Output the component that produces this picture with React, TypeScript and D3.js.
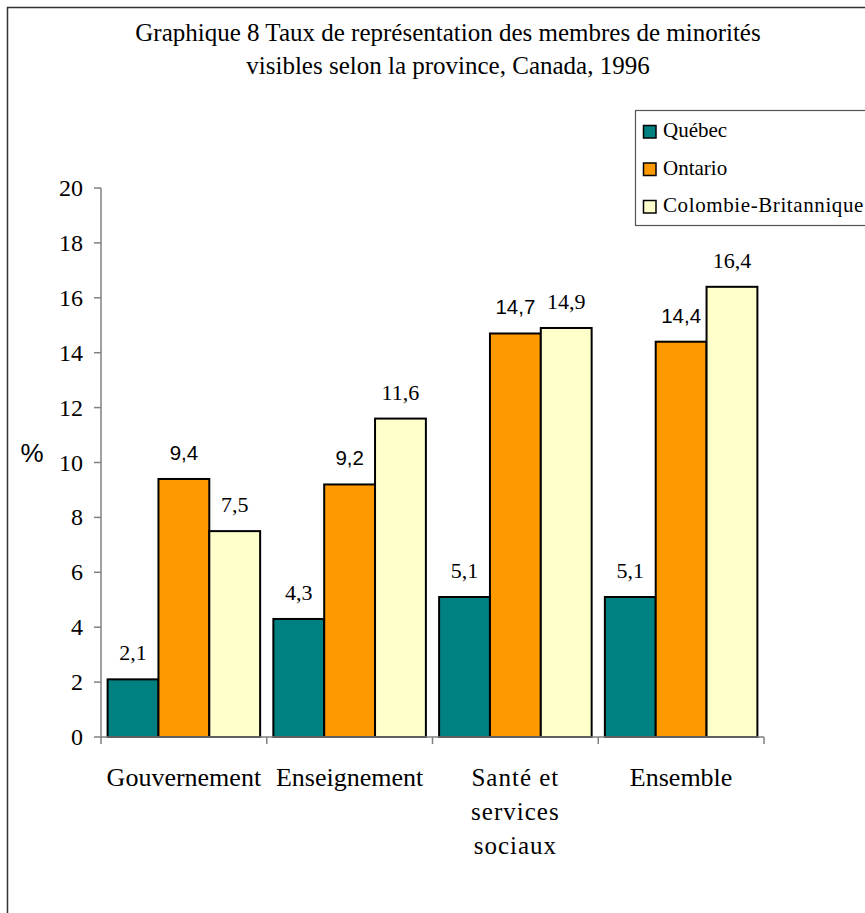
import React from "react";
import * as d3 from "d3";

const categories: string[][] = [["Gouvernement"], ["Enseignement"], ["Santé et", "services", "sociaux"], ["Ensemble"]];
const seriesNames = ["Québec", "Ontario", "Colombie-Britannique"];
const quebec = [2.1, 4.3, 5.1, 5.1];
const ontario = [9.4, 9.2, 14.7, 14.4];
const colombie = [7.5, 11.6, 14.9, 16.4];
const colors = ["#008080", "#FF9900", "#FFFFCC"];
const yTicks = [0, 2, 4, 6, 8, 10, 12, 14, 16, 18, 20];
const titleLines = ["Graphique 8 Taux de représentation des membres de minorités", "visibles selon la province, Canada, 1996"];

const SERIF = "Liberation Serif";
const SANS = "Liberation Sans";

export default function App() {
  const W = 865, H = 913;
  const x0 = 101, x1 = 764, yTop = 188, yBot = 737;
  const series = [quebec, ontario, colombie];
  const y = d3.scaleLinear().domain([0, 20]).range([yBot, yTop]);
  const xCat = d3.scaleBand().domain(categories.map((_, i) => String(i))).range([x0, x1]).paddingInner(0).paddingOuter(0);
  const xSub = d3.scaleBand().domain(seriesNames).range([0, xCat.bandwidth()]).paddingInner(0).paddingOuter(0.13);
  const bounds = d3.range(categories.length + 1).map((i) => x0 + i * xCat.bandwidth());

  return (
    <svg width={W} height={H} style={{ position: "absolute", left: 0, top: 0, background: "#fff" }}>
      <rect x={0} y={0} width={W} height={H} fill="#fff" />
      <path d={`M7.5,${H + 5} V7.5 H${W + 5}`} fill="none" stroke="#333" strokeWidth={1.5} />
      {titleLines.map((t, i) => (
        <text key={i} x={448} y={41 + i * 33} textAnchor="middle" style={{ fontFamily: SERIF }} fontSize={25} fill="#000">{t}</text>
      ))}
      {/* y axis */}
      <line x1={x0} x2={x0} y1={yTop} y2={yBot} stroke="#808080" strokeWidth={1.5} />
      {yTicks.map((t) => (
        <g key={t}>
          <line x1={x0 - 7} x2={x0} y1={y(t)} y2={y(t)} stroke="#808080" strokeWidth={1.5} />
          <text x={83} y={y(t) + 8} textAnchor="end" style={{ fontFamily: SERIF }} fontSize={24} fill="#000">{t}</text>
        </g>
      ))}
      <text x={32} y={462} textAnchor="middle" style={{ fontFamily: SANS }} fontSize={26} fill="#000">%</text>
      {/* bars */}
      {categories.map((_, ci) => (
        <g key={ci}>
          {series.map((s, si) => {
            const bx = (xCat(String(ci)) as number) + (xSub(seriesNames[si]) as number);
            const bw = xSub.bandwidth();
            return (
              <rect key={si} x={bx} y={y(s[ci])} width={bw} height={yBot - y(s[ci])} fill={colors[si]} stroke="#000" strokeWidth={2} />
            );
          })}
        </g>
      ))}
      {/* x axis */}
      <line x1={x0} x2={x1} y1={yBot} y2={yBot} stroke="#808080" strokeWidth={1.5} />
      {bounds.map((b, i) => (
        <line key={i} x1={b} x2={b} y1={yBot} y2={yBot + 7} stroke="#808080" strokeWidth={1.5} />
      ))}
      {/* value labels */}
      {categories.map((_, ci) => (
        <g key={ci}>
          {series.map((s, si) => {
            const bx = (xCat(String(ci)) as number) + (xSub(seriesNames[si]) as number) + xSub.bandwidth() / 2;
            return (
              <text key={si} x={bx} y={y(s[ci]) - 19} textAnchor="middle" style={{ fontFamily: si === 1 ? SANS : SERIF }} fontSize={si === 1 ? 20.5 : 22} fill="#000">
                {d3.format(".1f")(s[ci]).replace(".", ",")}
              </text>
            );
          })}
        </g>
      ))}
      {/* category labels */}
      {categories.map((lines, ci) => {
        const cx = (xCat(String(ci)) as number) + xCat.bandwidth() / 2;
        const multi = lines.length > 1;
        return (
          <text key={ci} textAnchor="middle" style={{ fontFamily: SERIF }} fontSize={multi ? 25 : 26} fill="#000">
            {lines.map((l, li) => (
              <tspan key={li} x={cx} y={786 + li * 34} letterSpacing={multi ? 1 : 0}>{l}</tspan>
            ))}
          </text>
        );
      })}
      {/* legend */}
      <rect x={635.5} y={110.5} width={W} height={115} fill="#fff" stroke="#555" strokeWidth={1.2} />
      {seriesNames.map((n, i) => (
        <g key={n}>
          <rect x={643.5} y={125.5 + i * 37.5} width={12.5} height={12.5} fill={colors[i]} stroke="#000" strokeWidth={1.5} />
          <text x={663} y={137 + i * 37.5} style={{ fontFamily: SERIF }} fontSize={21} letterSpacing={i === 2 ? 0.6 : 0} fill="#000">{n}</text>
        </g>
      ))}
    </svg>
  );
}
